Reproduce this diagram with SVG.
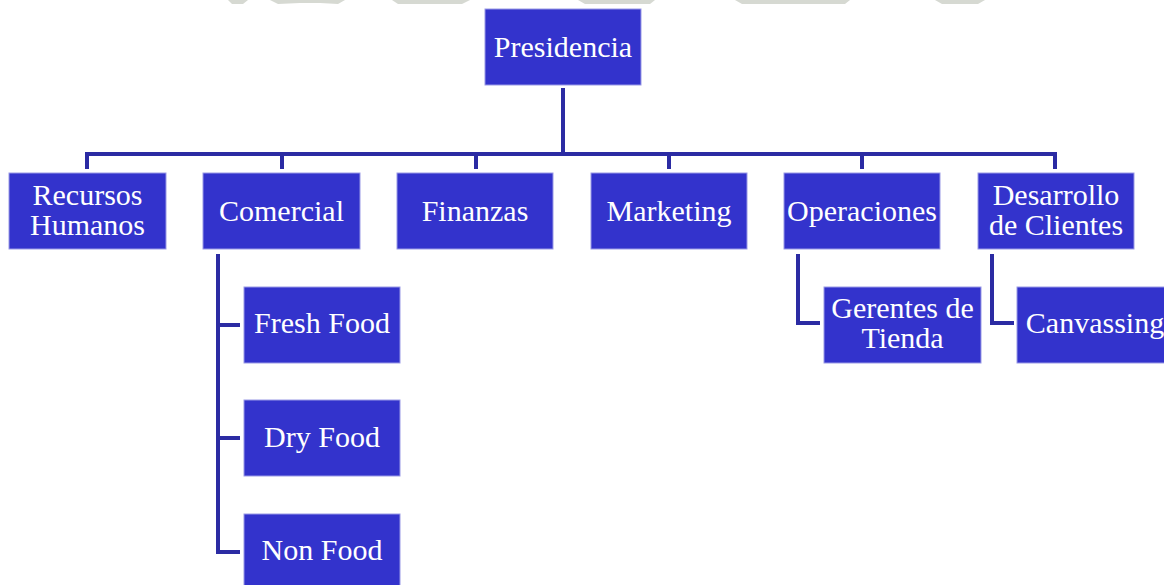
<svg xmlns="http://www.w3.org/2000/svg" width="1164" height="585" viewBox="0 0 1164 585">
  <style>
    .box { fill: #3333CC; stroke: #9a9ae6; stroke-width: 1; }
    .lbl { font-family: "Liberation Serif", "Times New Roman", serif; font-size: 30px; fill: #ffffff; text-anchor: middle; }
    .con { fill: none; stroke: #2B2BA3; stroke-width: 4; stroke-linejoin: miter; }
    .wm { fill: #d6d9d2; }
  </style>
  <rect width="1164" height="585" fill="#ffffff"/>
  <g id="watermark">
    <polygon class="wm" points="228,0 248,0 243,4 232,4"/>
    <polygon class="wm" points="270,0 345,0 338,4 320,3 300,3 278,4"/>
    <polygon class="wm" points="392,0 470,0 462,4 398,4"/>
    <polygon class="wm" points="578,0 655,0 650,4 585,4"/>
    <polygon class="wm" points="735,0 850,0 845,4 742,4"/>
    <polygon class="wm" points="935,0 985,0 978,4 942,4"/>
  </g>
  <g id="connectors">
    <path class="con" d="M563,88 V154"/>
    <path class="con" d="M87,169 V154 H1055 V169"/>
    <path class="con" d="M282,154 V169"/>
    <path class="con" d="M476,154 V169"/>
    <path class="con" d="M669,154 V169"/>
    <path class="con" d="M862,154 V169"/>
    <path class="con" d="M218,254 V552 H240"/>
    <path class="con" d="M218,325 H240"/>
    <path class="con" d="M218,438 H240"/>
    <path class="con" d="M798,254 V323 H820"/>
    <path class="con" d="M992,254 V323 H1014"/>
  </g>
  <g id="presidencia">
    <rect class="box" x="485" y="9" width="156" height="76"/>
    <text class="lbl" x="563" y="57">Presidencia</text>
  </g>
  <g id="recursos-humanos">
    <rect class="box" x="9" y="173" width="157" height="76"/>
    <text class="lbl" x="87.5" y="205">Recursos</text>
    <text class="lbl" x="87.5" y="235">Humanos</text>
  </g>
  <g id="comercial">
    <rect class="box" x="203" y="173" width="157" height="76"/>
    <text class="lbl" x="281.5" y="221">Comercial</text>
  </g>
  <g id="finanzas">
    <rect class="box" x="397" y="173" width="156" height="76"/>
    <text class="lbl" x="475" y="221">Finanzas</text>
  </g>
  <g id="marketing">
    <rect class="box" x="591" y="173" width="156" height="76"/>
    <text class="lbl" x="669" y="221">Marketing</text>
  </g>
  <g id="operaciones">
    <rect class="box" x="784" y="173" width="156" height="76"/>
    <text class="lbl" x="862" y="221">Operaciones</text>
  </g>
  <g id="desarrollo-clientes">
    <rect class="box" x="978" y="173" width="156" height="76"/>
    <text class="lbl" x="1056" y="205">Desarrollo</text>
    <text class="lbl" x="1056" y="235">de Clientes</text>
  </g>
  <g id="fresh-food">
    <rect class="box" x="244" y="287" width="156" height="76"/>
    <text class="lbl" x="322" y="333">Fresh Food</text>
  </g>
  <g id="dry-food">
    <rect class="box" x="244" y="400" width="156" height="76"/>
    <text class="lbl" x="322" y="447">Dry Food</text>
  </g>
  <g id="non-food">
    <rect class="box" x="244" y="514" width="156" height="76"/>
    <text class="lbl" x="322" y="560">Non Food</text>
  </g>
  <g id="gerentes-tienda">
    <rect class="box" x="824" y="287" width="157" height="76"/>
    <text class="lbl" x="902.5" y="318">Gerentes de</text>
    <text class="lbl" x="902.5" y="348">Tienda</text>
  </g>
  <g id="canvassing">
    <rect class="box" x="1017" y="287" width="156" height="76"/>
    <text class="lbl" x="1095" y="333">Canvassing</text>
  </g>
</svg>
